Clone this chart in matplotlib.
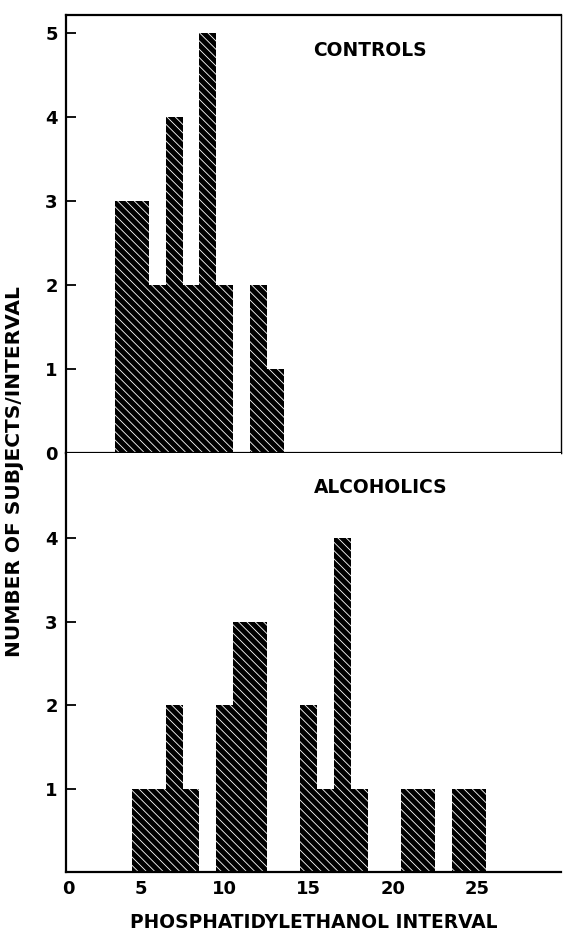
import matplotlib
matplotlib.use("Agg")
import matplotlib.pyplot as plt

# interval (bin centre) and number of subjects
controls_interval = [4, 5, 6, 7, 8, 9, 10, 12, 13]
controls_count = [3, 3, 2, 4, 2, 5, 2, 2, 1]

alcoholics_interval = [5, 6, 7, 8, 10, 11, 12, 15, 16, 17, 18, 21, 22, 24, 25]
alcoholics_count = [1, 1, 2, 1, 2, 3, 3, 2, 1, 4, 1, 1, 1, 1, 1]

x_ticks = [5, 10, 15, 20, 25]
controls_yticks = [0, 1, 2, 3, 4, 5]
alcoholics_yticks = [1, 2, 3, 4]

plt.rcParams["font.family"] = "DejaVu Sans"
plt.rcParams["font.weight"] = "bold"
plt.rcParams["hatch.linewidth"] = 0.6

fig = plt.figure(figsize=(5.63, 9.34), dpi=100)
W, H = 563, 934
left, right = 66 / W, 561 / W
ax_top = fig.add_axes([left, 1 - 453 / H, right - left, (453 - 15) / H])
ax_bot = fig.add_axes([left, 1 - 872 / H, right - left, (872 - 453) / H])

xlo, xhi = 0.58, 29.98

for ax, xs, ys in [(ax_top, controls_interval, controls_count),
                   (ax_bot, alcoholics_interval, alcoholics_count)]:
    ax.bar(xs, ys, width=1.0, color="black", edgecolor="white",
           hatch="\\\\\\\\", linewidth=0)
    ax.set_xlim(xlo, xhi)
    for s in ax.spines.values():
        s.set_linewidth(1.6)
    ax.tick_params(axis="y", direction="in", length=7, width=1.3,
                   labelsize=13, pad=6)

# top panel
ax_top.set_ylim(0, 5.21)
ax_top.set_yticks(controls_yticks)
ax_top.set_xticks([])
ax_top.spines["right"].set_linewidth(1.0)

# bottom panel
ax_bot.set_ylim(0, 5.02)
ax_bot.set_yticks(alcoholics_yticks)
ax_bot.spines["right"].set_visible(False)
ax_bot.spines["top"].set_visible(False)
ax_bot.set_xticks([xlo + 0.12] + x_ticks, ["0"] + [str(t) for t in x_ticks])
ax_bot.tick_params(axis="x", length=0, labelsize=13, pad=6)

fig.text(370 / W, 1 - 50 / H, "CONTROLS", fontsize=13.4,
         ha="center", va="center")
fig.text(381 / W, 1 - 488 / H, "ALCOHOLICS", fontsize=13.4,
         ha="center", va="center")
fig.text(314 / W, 1 - 922 / H, "PHOSPHATIDYLETHANOL INTERVAL", fontsize=13.4,
         ha="center", va="center")
fig.text(15 / W, 1 - 472 / H, "NUMBER OF SUBJECTS/INTERVAL", fontsize=14.5,
         rotation=90, ha="center", va="center")

fig.savefig("out.png", dpi=100)
